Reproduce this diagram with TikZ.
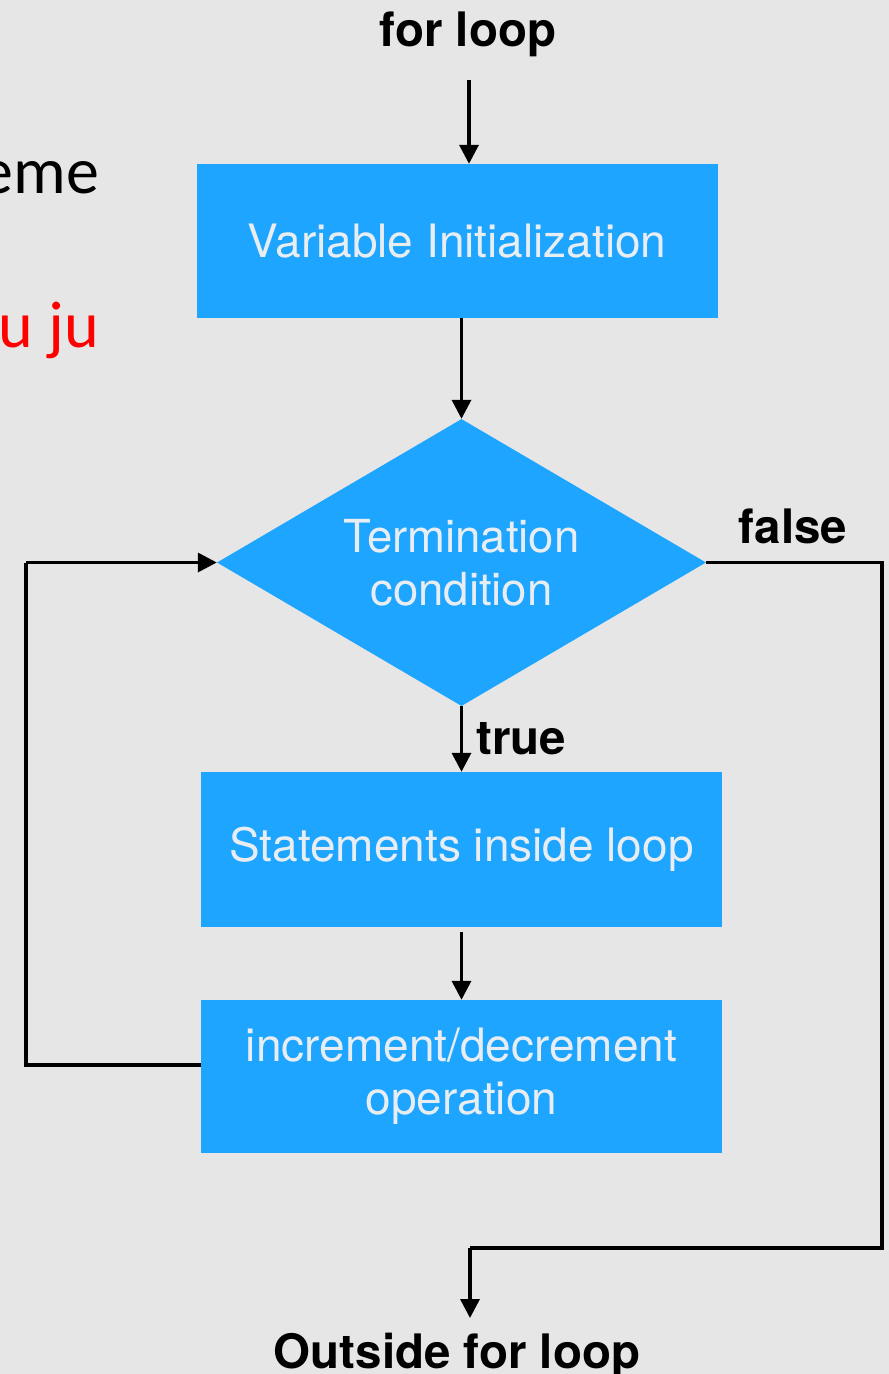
\documentclass[tikz,border=0pt]{standalone}
\usepackage{fontspec}
\setmainfont{TeX Gyre Heros}
\newfontfamily\calfont{Carlito}
\usetikzlibrary{arrows.meta,shapes.geometric}

\definecolor{bgray}{HTML}{E6E6E6}
\definecolor{flowblue}{HTML}{1DA5FF}
\definecolor{boxtext}{HTML}{E8EDF1}
\definecolor{notered}{HTML}{FF0000}

\tikzset{
  stepbox/.style={rectangle, fill=flowblue, draw=none, inner sep=0pt,
    minimum width=521pt, text=boxtext, align=center,
    font=\fontsize{46}{53}\selectfont},
  decision/.style={diamond, fill=flowblue, draw=none, inner sep=0pt,
    aspect=1.7, minimum width=489pt, minimum height=287pt,
    text=boxtext, align=center, font=\fontsize{45.5}{53}\selectfont},
  flowlabel/.style={inner sep=0pt, text=black,
    font=\bfseries\fontsize{47.5}{55}\selectfont},
  sidetext/.style={inner sep=0pt, anchor=base east,
    font=\calfont\fontsize{66}{79}\selectfont},
  flow/.style={draw=black, line width=3.5pt,
    -{Triangle[length=19pt,width=19pt]}},
  wire/.style={draw=black, line width=3.5pt, line join=miter}
}

\begin{document}
\begin{tikzpicture}[x=1pt,y=-1pt]
  % canvas
  \fill[bgray] (0,0) rectangle (889,1374);
  \useasboundingbox (0,0) rectangle (889,1374);

  % side texts running in from the left edge
  \begin{scope}
    \clip (0,0) rectangle (889,1374);
    \node[sidetext] (side1) at (99,193) {eme};
    \node[sidetext, text=notered] (side2) at (99,347) {u ju};
  \end{scope}

  % flow elements
  \node[flowlabel, anchor=base] (start) at (468,46) {for loop};
  \node[stepbox, minimum height=154pt] (init) at (457,241) {Variable Initialization};
  \node[decision] (cond) at (461.5,562.5) {Termination\\condition};
  \node[stepbox, minimum height=155pt] (stmt) at (461.5,849.5) {Statements inside loop};
  \node[stepbox, minimum height=153pt] (incr) at (461.5,1076.5) {increment/decrement\\operation};
  \node[flowlabel, anchor=base] (outside) at (457,1368) {Outside for loop};

  \node[flowlabel, anchor=base west] (truelbl) at (476,754) {true};
  \node[flowlabel, anchor=base] (falselbl) at (793,543) {false};

  % routing points
  \coordinate (topstart) at (469,80);
  \coordinate (loopb) at (26,1065);
  \coordinate (loopt) at (26,562.5);
  \coordinate (exit1) at (882,562.5);
  \coordinate (exit2) at (882,1248);
  \coordinate (exit3) at (470,1248);
  \coordinate (exittip) at (470,1318);

  % connectors
  \draw[flow] (topstart) -- (topstart |- init.north);
  \draw[flow] (cond.north |- init.south) -- (cond.north);
  \draw[flow] (cond.south) -- (stmt.north);
  \draw[flow] ([yshift=-5pt]stmt.south) -- (incr.north);
  \draw[wire] ([yshift=11.5pt]incr.west) -- (loopb) -- (loopt);
  \draw[flow] (loopt) -- (cond.west);
  \draw[wire] (cond.east) -- (exit1) -- (exit2) -- (exit3);
  \draw[flow] (exit3) -- (exittip);
\end{tikzpicture}
\end{document}
